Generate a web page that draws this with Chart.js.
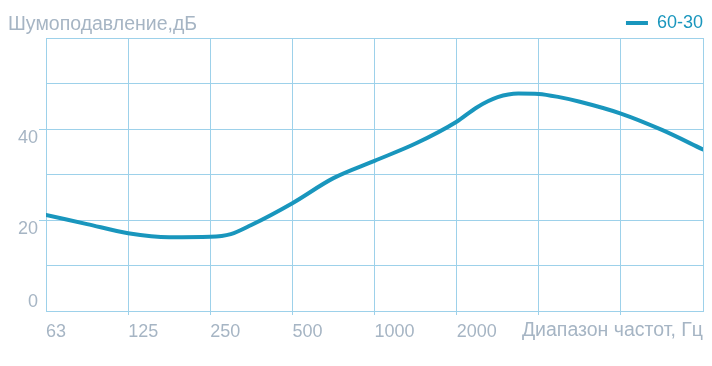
<!DOCTYPE html>
<html>
<head>
<meta charset="utf-8">
<script src="https://cdn.jsdelivr.net/npm/chart.js@4"></script>
<style>
  html, body { margin: 0; padding: 0; background: #fff; }
  #wrap { width: 712px; height: 366px; }
</style>
</head>
<body>
<div id="wrap"><canvas id="noiseChart" width="712" height="366"></canvas></div>
<script>
// Частоты (подписи оси X) и значения кривой шумоподавления
const freqLabels = ['63', '125', '250', '500', '1000', '2000', '', '', ''];
const pointX = [0, 0.5, 1, 1.5, 2, 2.25, 2.5, 3, 3.5, 4, 4.5, 5, 5.25, 5.5, 5.75, 6, 6.25, 6.5, 7, 7.5, 8];
const pointY = [21.1, 19.1, 17.1, 16.2, 16.3, 16.9, 18.9, 23.7, 29.2, 33.0, 36.8, 41.6, 44.8, 47.0, 47.8, 47.7, 47.0, 46.0, 43.4, 39.8, 35.5];
const yLabeled = [0, 20, 40];
const seriesName = '60-30';
const yTitle = 'Шумоподавление,дБ';
const xTitle = 'Диапазон частот, Гц';

const lineColor = '#1996bd';
const gridColor = '#9dd1ea';
const textGray = '#a6b5c4';
const fontFamily = '"Liberation Sans", Arial, sans-serif';

// подписи осей рисуем сами, чтобы стояли в одной строке с легендой / подписями тиков
const axisText = {
    id: 'axisText',
    afterDraw(chart) {
        const { ctx, chartArea } = chart;
        ctx.save();
        ctx.font = '19.5px ' + fontFamily;
        ctx.fillStyle = textGray;
        ctx.textBaseline = 'alphabetic';
        ctx.textAlign = 'left';
        ctx.fillText(yTitle, 8, 30);
        ctx.textAlign = 'right';
        ctx.fillText(xTitle, chartArea.right, chartArea.bottom + 25);
        ctx.restore();
    }
};

new Chart(document.getElementById('noiseChart'), {
    type: 'line',
    data: {
        datasets: [{
            label: seriesName,
            data: pointX.map((x, i) => ({ x, y: pointY[i] })),
            borderColor: lineColor,
            backgroundColor: lineColor,
            borderWidth: 4,
            borderCapStyle: 'round',
            pointRadius: 0,
            pointStyle: 'line',
            cubicInterpolationMode: 'monotone',
            fill: false
        }]
    },
    options: {
        responsive: false,
        animation: false,
        devicePixelRatio: 1,
        layout: { padding: { top: 14, right: 9, left: 0, bottom: 0 } },
        plugins: {
            tooltip: { enabled: false },
            legend: {
                position: 'top',
                align: 'end',
                maxHeight: 24,
                labels: {
                    usePointStyle: true,
                    pointStyleWidth: 22,
                    boxWidth: 22,
                    padding: 0,
                    color: lineColor,
                    font: { family: fontFamily, size: 18 }
                }
            }
        },
        scales: {
            x: {
                type: 'linear',
                min: 0,
                max: 8,
                afterFit: s => { s.height = 55; },
                grid: {
                    color: gridColor,
                    lineWidth: 1,
                    tickLength: 4,
                    tickColor: c => (c.tick && c.tick.value > 0 && c.tick.value < 8) ? gridColor : 'rgba(0,0,0,0)'
                },
                border: { color: gridColor, width: 1 },
                ticks: {
                    stepSize: 1,
                    autoSkip: false,
                    maxRotation: 0,
                    align: 'start',
                    padding: 6,
                    color: textGray,
                    font: { family: fontFamily, size: 18 },
                    callback: v => freqLabels[v] ?? ''
                }
            },
            y: {
                min: 0,
                max: 60,
                afterFit: s => { s.width = 46; },
                grid: {
                    color: gridColor,
                    lineWidth: 1,
                    tickLength: 7,
                    tickColor: c => (c.tick && c.tick.value > 0 && yLabeled.includes(c.tick.value)) ? gridColor : 'rgba(0,0,0,0)'
                },
                border: { color: gridColor, width: 1 },
                ticks: {
                    stepSize: 10,
                    padding: 1,
                    color: textGray,
                    font: { family: fontFamily, size: 18, lineHeight: 1 },
                    // подписи в референсе чуть смещены от линий сетки
                    callback: v => {
                        if (!yLabeled.includes(v)) return '';
                        return v === 0 ? [String(v), ''] : ['', String(v)];
                    }
                }
            }
        }
    },
    plugins: [axisText]
});
</script>
</body>
</html>
